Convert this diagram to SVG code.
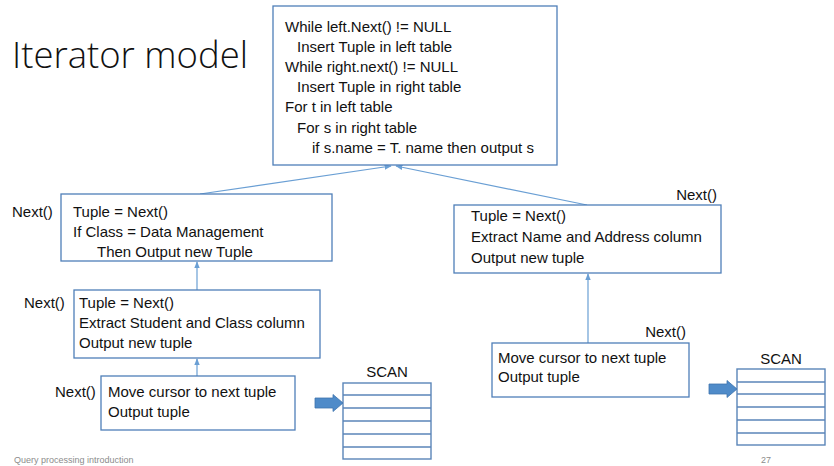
<svg xmlns="http://www.w3.org/2000/svg" width="834" height="466" viewBox="0 0 834 466">
<defs>
<style>
.box{fill:#fff;stroke:#4f7fb8;stroke-width:1.3}
.t{font-family:"Liberation Sans",Arial,sans-serif;font-size:15px;fill:#111}
.title{font-family:"Open Sans","Liberation Sans",sans-serif;font-weight:300;font-size:36px;fill:#111}
.foot{font-family:"Liberation Sans",Arial,sans-serif;font-size:9px;fill:#8c8c8c}
.conn{stroke:#6a9fd4;stroke-width:1.2;fill:none}
.tbl{fill:#fff;stroke:#5a85b8;stroke-width:1.4}
.row{stroke:#5a85b8;stroke-width:1.4}
.blk{fill:#4f8bc9;stroke:#3f74ad;stroke-width:0.8}
</style>
<marker id="ah" viewBox="0 0 10 10" refX="9" refY="5" markerWidth="6" markerHeight="6" orient="auto">
<path d="M0,1 L10,5 L0,9 Z" fill="#6a9fd4"/>
</marker>
</defs>
<rect width="834" height="466" fill="#fff"/>
<text class="title" x="12" y="68" textLength="236" lengthAdjust="spacingAndGlyphs">Iterator model</text>

<g id="connectors">
<line class="conn" x1="200" y1="194" x2="391" y2="166" marker-end="url(#ah)"/>
<line class="conn" x1="587" y1="205" x2="396" y2="166" marker-end="url(#ah)"/>
<line class="conn" x1="197" y1="290" x2="197" y2="262" marker-end="url(#ah)"/>
<line class="conn" x1="197" y1="376" x2="197" y2="359" marker-end="url(#ah)"/>
<line class="conn" x1="588" y1="343" x2="588" y2="274" marker-end="url(#ah)"/>
</g>

<g id="join">
<rect class="box" x="273" y="6" width="284" height="159"/>
<text class="t" x="285" y="32">While left.Next() != NULL</text>
<text class="t" x="297" y="52">Insert Tuple in left table</text>
<text class="t" x="285" y="72">While right.next() != NULL</text>
<text class="t" x="297" y="92">Insert Tuple in right table</text>
<text class="t" x="285" y="112">For t in left table</text>
<text class="t" x="297" y="133">For s in right table</text>
<text class="t" x="312" y="153">if s.name = T. name then output s</text>
</g>

<g id="select">
<text class="t" x="12" y="217">Next()</text>
<rect class="box" x="61" y="194" width="271" height="67"/>
<text class="t" x="73" y="217">Tuple = Next()</text>
<text class="t" x="73" y="237">If Class = Data Management</text>
<text class="t" x="97" y="257">Then Output new Tuple</text>
</g>

<g id="project-left">
<text class="t" x="24" y="308">Next()</text>
<rect class="box" x="74" y="290" width="246" height="68"/>
<text class="t" x="79" y="308">Tuple = Next()</text>
<text class="t" x="79" y="328">Extract Student and Class column</text>
<text class="t" x="79" y="348">Output new tuple</text>
</g>

<g id="scan-left-op">
<text class="t" x="55" y="397">Next()</text>
<rect class="box" x="101" y="376" width="194" height="54"/>
<text class="t" x="108" y="397">Move cursor to next tuple</text>
<text class="t" x="108" y="417">Output tuple</text>
</g>

<g id="scan-left-table">
<text class="t" x="387" y="377" text-anchor="middle">SCAN</text>
<rect class="tbl" x="343" y="383" width="88" height="76"/>
<line class="row" x1="343" y1="395" x2="431" y2="395"/>
<line class="row" x1="343" y1="408" x2="431" y2="408"/>
<line class="row" x1="343" y1="421" x2="431" y2="421"/>
<line class="row" x1="343" y1="434" x2="431" y2="434"/>
<line class="row" x1="343" y1="447" x2="431" y2="447"/>
<path class="blk" d="M315,398 H333 V394.5 L343,403 L333,411.5 V408 H315 Z"/>
</g>

<g id="project-right">
<text class="t" x="717" y="200" text-anchor="end">Next()</text>
<rect class="box" x="454" y="205" width="267" height="68"/>
<text class="t" x="471" y="221">Tuple = Next()</text>
<text class="t" x="471" y="242">Extract Name and Address column</text>
<text class="t" x="471" y="263">Output new tuple</text>
</g>

<g id="scan-right-op">
<text class="t" x="686" y="337" text-anchor="end">Next()</text>
<rect class="box" x="492" y="343" width="197" height="54"/>
<text class="t" x="498" y="363">Move cursor to next tuple</text>
<text class="t" x="498" y="382">Output tuple</text>
</g>

<g id="scan-right-table">
<text class="t" x="781" y="364" text-anchor="middle">SCAN</text>
<rect class="tbl" x="737" y="369" width="88" height="76"/>
<line class="row" x1="737" y1="382" x2="825" y2="382"/>
<line class="row" x1="737" y1="394" x2="825" y2="394"/>
<line class="row" x1="737" y1="407" x2="825" y2="407"/>
<line class="row" x1="737" y1="420" x2="825" y2="420"/>
<line class="row" x1="737" y1="433" x2="825" y2="433"/>
<path class="blk" d="M709,384 H727 V380.5 L737,389 L727,397.5 V394 H709 Z"/>
</g>

<text class="foot" x="14" y="463">Query processing introduction</text>
<text class="foot" x="766" y="463" text-anchor="middle">27</text>
</svg>
